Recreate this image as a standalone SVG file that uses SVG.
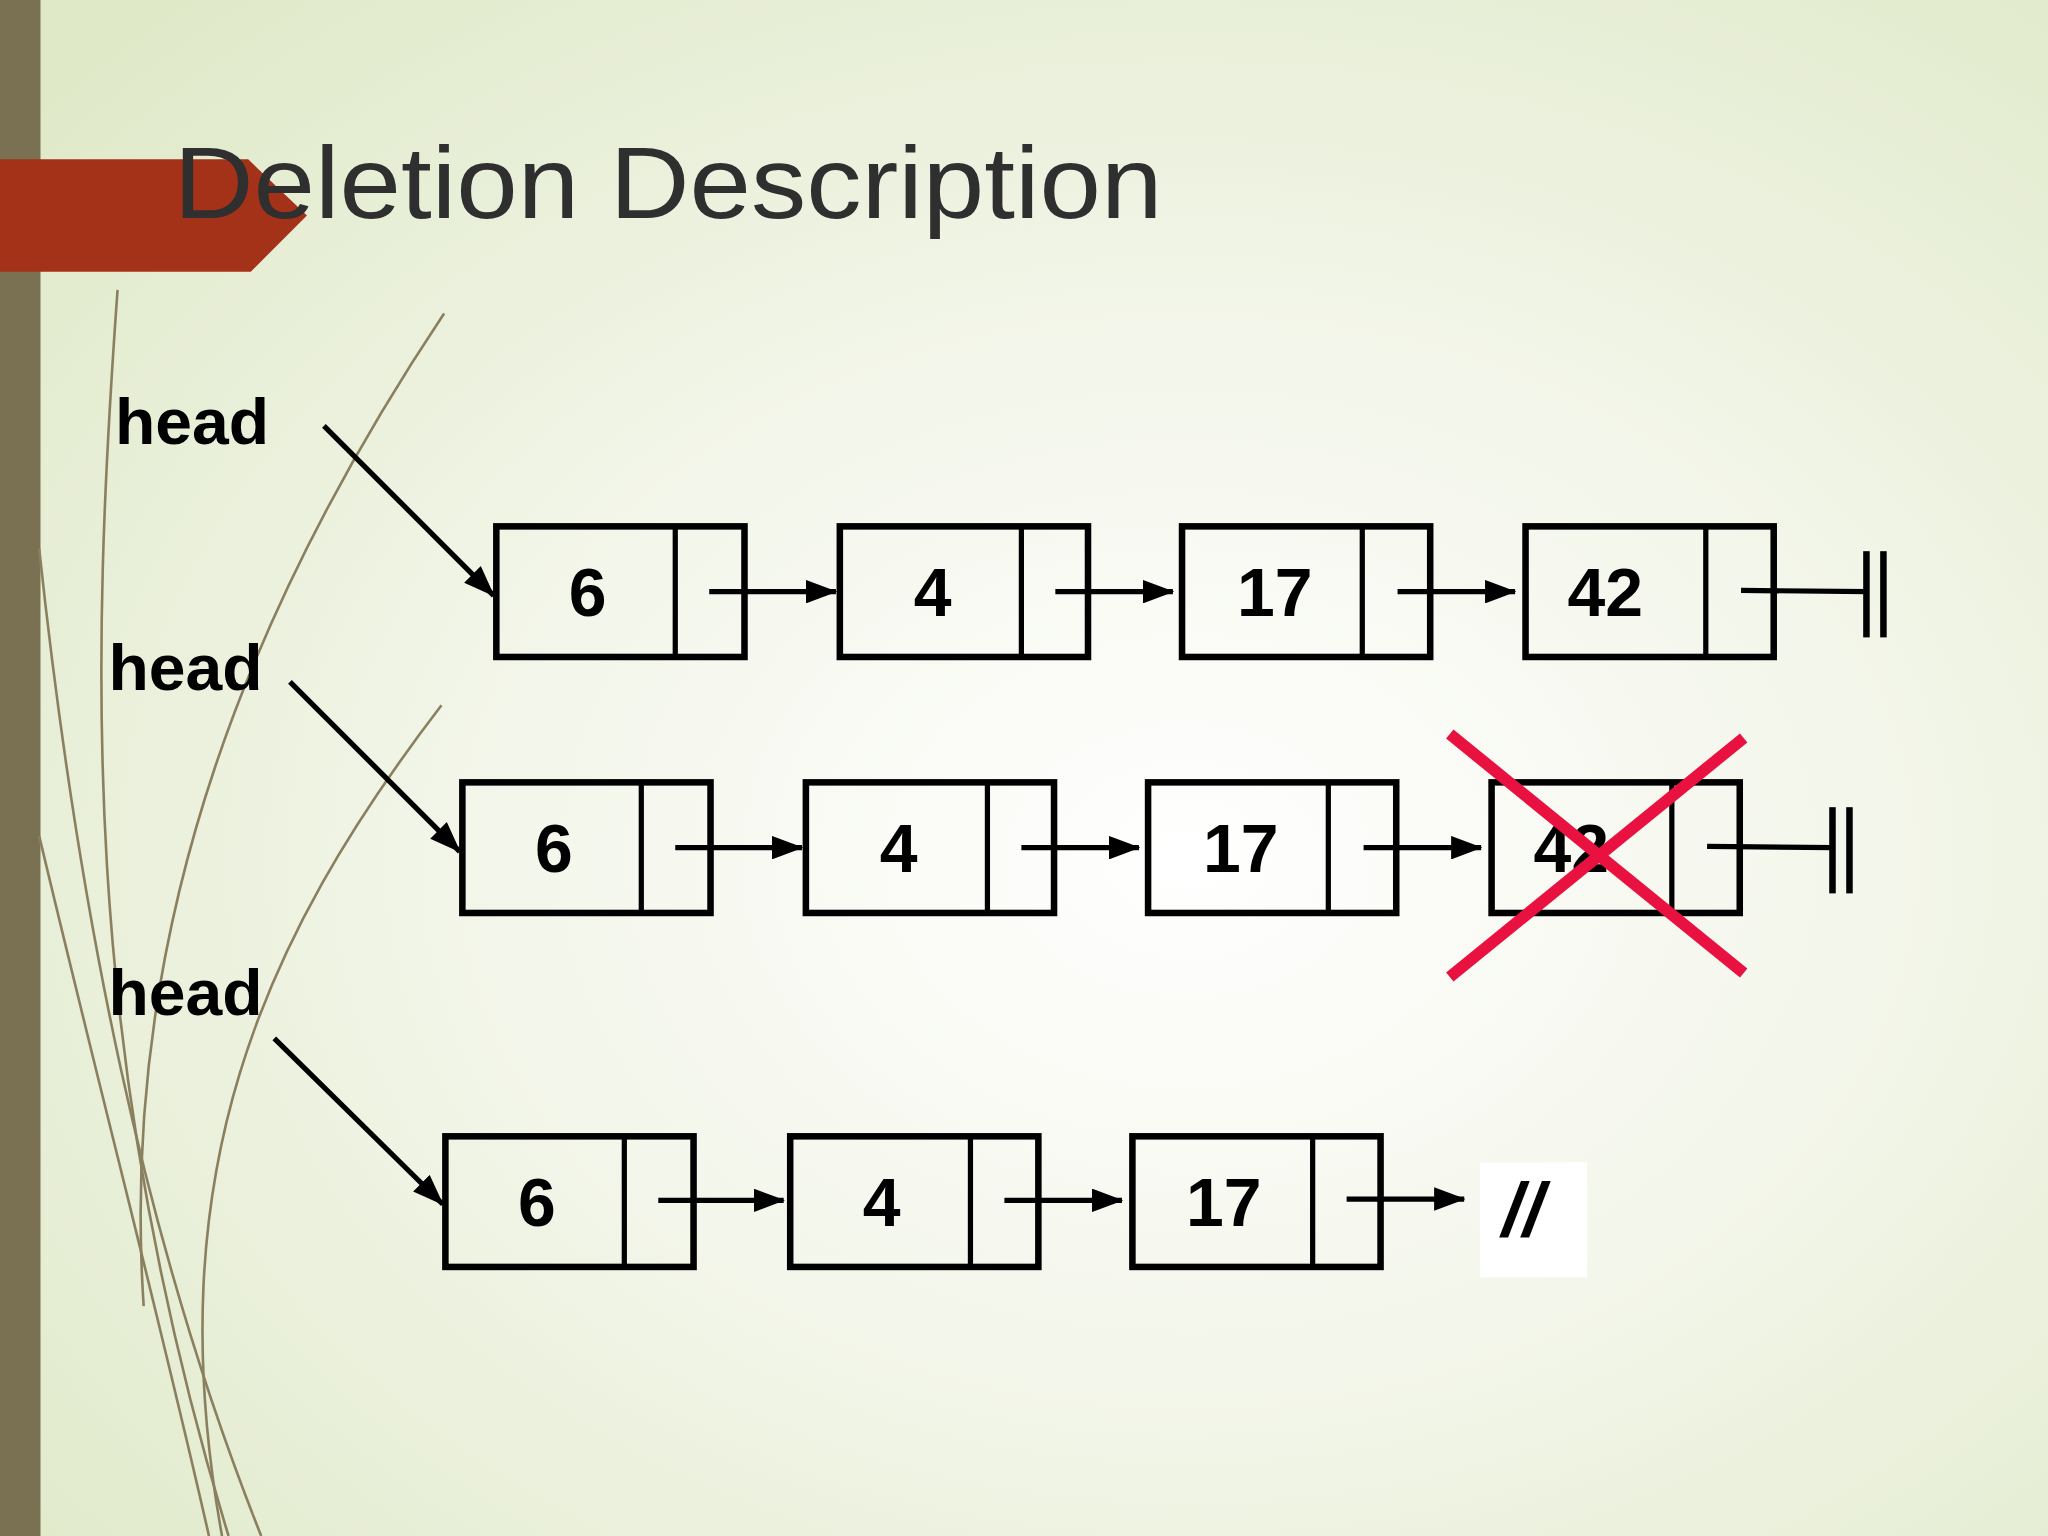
<svg xmlns="http://www.w3.org/2000/svg" width="2048" height="1536" viewBox="0 0 2048 1536">
<defs>
<radialGradient id="bg" cx="0.58" cy="0.56" r="0.75"><stop offset="0" stop-color="#ffffff"/><stop offset="0.45" stop-color="#f3f6ea"/><stop offset="1" stop-color="#dfe9c8"/></radialGradient>
<marker id="a2" markerWidth="24" markerHeight="18" refX="23" refY="9" orient="auto" markerUnits="userSpaceOnUse"><path d="M0,0 L24,9 L0,18 z" fill="#000"/></marker>
</defs>
<style>
.box{fill:none;stroke:#000;stroke-width:5}
.ln{stroke:#000;stroke-width:4;fill:none}
.v{font-family:"Liberation Sans",Arial,sans-serif;font-weight:bold;font-size:52px;text-anchor:middle}
.h{font-family:"Liberation Sans",Arial,sans-serif;font-weight:bold;font-size:49px}
.deco{fill:none;stroke:#8a8060;stroke-width:2}
</style>
<rect width="2048" height="1536" fill="url(#bg)"/>
<g transform="scale(1.30612)">
<g id="decor">
<rect x="0" y="0" width="31" height="1176" fill="#7a7152"/>
<path class="deco" d="M90,222 C70,500 60,800 175,1176" stroke-width="3" stroke="#6e6448"/>
<path class="deco" d="M30,420 C60,700 110,950 200,1176" stroke-width="4" stroke="#6e6448"/>
<path class="deco" d="M338,540 C200,720 120,900 170,1176" stroke-width="3" stroke="#6e6448"/>
<path class="deco" d="M340,240 C200,450 90,700 110,1000" stroke="#c8c8b0"/>
<path class="deco" d="M30,640 C80,850 120,1000 160,1176" stroke="#c0bfa0" stroke-width="3"/>
<path d="M0,122 L190,122 L235,165 L192,208 L0,208 Z" fill="#a33219"/>
<text x="133" y="167" textLength="757" lengthAdjust="spacingAndGlyphs" font-family="'Century Gothic','URW Gothic','Liberation Sans',sans-serif" font-size="78" fill="#2f2f2f">Deletion Description</text>
</g>
<g id="row1">
<rect class="box" x="380" y="403" width="190" height="100"/><line class="ln" x1="517" y1="403" x2="517" y2="503"/><text class="v" x="450" y="472">6</text>
<rect class="box" x="643" y="403" width="190" height="100"/><line class="ln" x1="782" y1="403" x2="782" y2="503"/><text class="v" x="714" y="472">4</text>
<rect class="box" x="905" y="403" width="190" height="100"/><line class="ln" x1="1043" y1="403" x2="1043" y2="503"/><text class="v" x="976" y="472">17</text>
<rect class="box" x="1168" y="403" width="190" height="100"/><line class="ln" x1="1306" y1="403" x2="1306" y2="503"/><text class="v" x="1229" y="472">42</text>
<text class="h" x="88" y="340" textLength="118" lengthAdjust="spacingAndGlyphs">head</text>
</g>
<g id="row2">
<rect class="box" x="354" y="599" width="190" height="100"/><line class="ln" x1="491" y1="599" x2="491" y2="699"/><text class="v" x="424" y="668">6</text>
<rect class="box" x="617" y="599" width="190" height="100"/><line class="ln" x1="756" y1="599" x2="756" y2="699"/><text class="v" x="688" y="668">4</text>
<rect class="box" x="879" y="599" width="190" height="100"/><line class="ln" x1="1017" y1="599" x2="1017" y2="699"/><text class="v" x="950" y="668">17</text>
<rect class="box" x="1142" y="599" width="190" height="100"/><line class="ln" x1="1280" y1="599" x2="1280" y2="699"/><text class="v" x="1203" y="668">42</text>
<text class="h" x="83" y="528" textLength="118" lengthAdjust="spacingAndGlyphs">head</text>
</g>
<g id="row3">
<rect class="box" x="341" y="870" width="190" height="100"/><line class="ln" x1="478" y1="870" x2="478" y2="970"/><text class="v" x="411" y="939">6</text>
<rect class="box" x="605" y="870" width="190" height="100"/><line class="ln" x1="743" y1="870" x2="743" y2="970"/><text class="v" x="675" y="939">4</text>
<rect class="box" x="867" y="870" width="190" height="100"/><line class="ln" x1="1005" y1="870" x2="1005" y2="970"/><text class="v" x="937" y="939">17</text>
<text class="h" x="83" y="777" textLength="118" lengthAdjust="spacingAndGlyphs">head</text>
<rect x="1133" y="890" width="82" height="88" fill="#fff"/>
<text x="1166" y="946" font-family="'Liberation Sans',Arial,sans-serif" font-weight="bold" font-style="italic" font-size="58" text-anchor="middle">//</text>
</g>
<g id="connectors">
<line class="ln" x1="248" y1="326" x2="378" y2="456" marker-end="url(#a2)"/>
<line class="ln" x1="222" y1="522" x2="352" y2="652" marker-end="url(#a2)"/>
<line class="ln" x1="210" y1="795" x2="339" y2="922" marker-end="url(#a2)"/>
<line class="ln" x1="543" y1="453" x2="640" y2="453" marker-end="url(#a2)"/>
<line class="ln" x1="808" y1="453" x2="898" y2="453" marker-end="url(#a2)"/>
<line class="ln" x1="1070" y1="453" x2="1160" y2="453" marker-end="url(#a2)"/>
<line class="ln" x1="1333" y1="452" x2="1430" y2="453"/>
<line x1="1429" y1="422" x2="1429" y2="488" stroke="#000" stroke-width="5"/>
<line x1="1442" y1="422" x2="1442" y2="488" stroke="#000" stroke-width="5"/>
<line class="ln" x1="517" y1="649" x2="614" y2="649" marker-end="url(#a2)"/>
<line class="ln" x1="782" y1="649" x2="872" y2="649" marker-end="url(#a2)"/>
<line class="ln" x1="1044" y1="649" x2="1134" y2="649" marker-end="url(#a2)"/>
<line class="ln" x1="1307" y1="648" x2="1404" y2="649"/>
<line x1="1403" y1="618" x2="1403" y2="684" stroke="#000" stroke-width="5"/>
<line x1="1416" y1="618" x2="1416" y2="684" stroke="#000" stroke-width="5"/>
<line class="ln" x1="504" y1="919" x2="600" y2="919" marker-end="url(#a2)"/>
<line class="ln" x1="769" y1="919" x2="859" y2="919" marker-end="url(#a2)"/>
<line class="ln" x1="1031" y1="918" x2="1121" y2="918" marker-end="url(#a2)"/>
</g>
<g id="cross" stroke="#e8113f" stroke-width="9">
<line x1="1110" y1="562" x2="1335" y2="745"/>
<line x1="1335" y1="565" x2="1110" y2="748"/>
</g>
</g>
</svg>
